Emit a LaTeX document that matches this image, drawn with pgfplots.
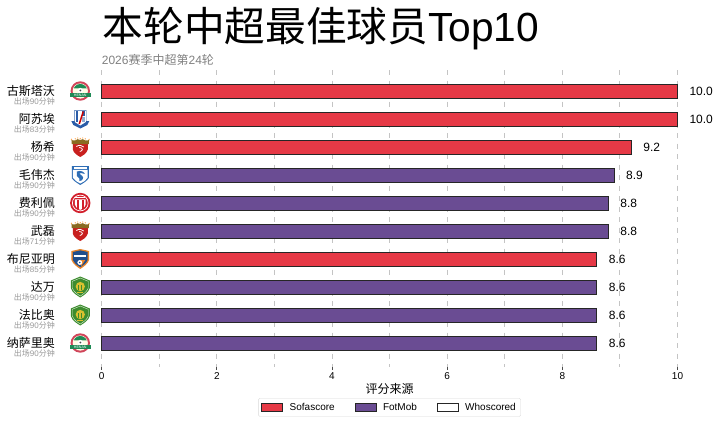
\documentclass[border=0pt]{standalone}
\usepackage{fontspec}
\setmainfont{Liberation Sans}
\newfontfamily\cjk{Noto Sans CJK SC}
\usepackage{pgfplots}
\pgfplotsset{compat=1.18}

\definecolor{sofa}{HTML}{E63946}
\definecolor{fotmob}{HTML}{6A4C93}
\definecolor{gridc}{HTML}{C4C4C4}
\definecolor{henang}{HTML}{1E8A55}
\definecolor{henanr}{HTML}{D0455A}
\definecolor{shblue}{HTML}{2B5DA8}
\definecolor{portr}{HTML}{C8201F}
\definecolor{portg}{HTML}{8A6A20}
\definecolor{sdblue}{HTML}{2E6DB5}
\definecolor{ccred}{HTML}{D21F2B}
\definecolor{tjblue}{HTML}{1F4E8C}
\definecolor{tjor}{HTML}{E8842A}
\definecolor{bjg}{HTML}{3C8C2E}
\definecolor{bjy}{HTML}{D8C030}

\newcommand\fs[1]{\fontsize{#1bp}{#1bp}\selectfont}
\newcommand\pl[2]{{\cjk\fs{12}#1}\\[-3.2bp]{\color[HTML]{999999}\cjk\fs{8}出场}{\color[HTML]{999999}\fs{8}#2}{\color[HTML]{999999}\cjk\fs{8}分钟}}

% team badges, drawn around a named point, units are output pixels
\newcommand\henan[1]{\begin{scope}[shift={(#1)},x=1bp,y=1bp]
  \fill[henanr] (0,0) circle (9.7);
  \fill[white!90!yellow] (0,0) circle (7.6);
  \fill[henang] (-6.6,2.6) arc (158:22:7.1) -- cycle;
  \fill[white] (0,0.5) circle (2.6);
  \fill[black!70] (0,0.5) circle (1);
  \fill[henang] (-10.3,-6) rectangle (10.3,-1.8);
  \node[white,inner sep=0pt,font=\fs{3.6}] at (0,-3.9) {HENAN};
\end{scope}}
\newcommand\shenhua[1]{\begin{scope}[shift={(#1)},x=1bp,y=1bp]
  \fill[shblue] (-9,-2) -- (-6,-2) -- (-6,9) -- (6,9) -- (6,-2) -- (9,-2) -- (7,-6) -- (0,-9.5) -- (-7,-6) -- cycle;
  \fill[white] (-5.5,8.5) -- (5.5,8.5) -- (5.5,-3) -- (0,-6.5) -- (-5.5,-3) -- cycle;
  \fill[shblue] (-4.5,8) rectangle (-2,-3);
  \fill[shblue] (1.5,8) rectangle (4.5,3);
  \fill[shblue!50!white] (1.5,2) rectangle (4.5,-3);
  \draw[red!80!black,line width=1.5bp] (-1,-5) -- (3,7.5);
\end{scope}}
\newcommand\port[1]{\begin{scope}[shift={(#1)},x=1bp,y=1bp]
  \fill[portr] (-7.5,4.5) -- (7.5,4.5) -- (7.5,-2.5) .. controls (6.5,-6.5) and (2.5,-8.5) .. (0,-10) .. controls (-2.5,-8.5) and (-6.5,-6.5) .. (-7.5,-2.5) -- cycle;
  \fill[portg] (-8.5,3) -- (-8.8,6.8) -- (-5,6.6) -- (-2.5,7.8) -- (0,7) -- (2.5,7.8) -- (5,6.6) -- (8.8,6.8) -- (8.5,3) -- cycle;
  \foreach \a/\b in {-8.8/7.6,-5/8.2,-2.5/9,0/8.4,2.5/9,5/8.2,8.8/7.6} \fill[orange!70!white] (\a,\b) circle (0.7);
  \draw[white,line width=0.8bp] (-4,0.5) .. controls (-1,2.5) and (2,1.5) .. (3.5,0);
  \draw[white,line width=0.8bp] (-1,-0.5) .. controls (3,-0.5) and (3,-4) .. (-0.5,-4.5);
\end{scope}}
\newcommand\shandong[1]{\begin{scope}[shift={(#1)},x=1bp,y=1bp]
  \fill[sdblue] (-8.5,9) -- (8.5,9) -- (8.5,-3) .. controls (7,-6) and (3,-8) .. (0,-10) .. controls (-3,-8) and (-7,-6) .. (-8.5,-3) -- cycle;
  \fill[white] (-7.3,5.2) -- (7.3,5.2) -- (7.3,-2.8) .. controls (6,-5.3) and (3,-7) .. (0,-8.5) .. controls (-3,-7) and (-6,-5.3) .. (-7.3,-2.8) -- cycle;
  \fill[white] (-6.5,8) rectangle (6.5,6.5);
  \fill[sdblue] (-3.5,3.5) .. controls (1,5) and (4,3) .. (4.5,1) .. controls (2,2.2) and (0,2) .. (-1,1.5) -- (2,-1) .. controls (4,-3) and (2,-6) .. (-1,-6) .. controls (0,-4) and (-1,-3) .. (-3.5,-1) -- cycle;
\end{scope}}
\newcommand\changchun[1]{\begin{scope}[shift={(#1)},x=1bp,y=1bp]
  \fill[ccred] (0,0) circle (10.2);
  \draw[white,line width=0.7bp] (0,0) circle (7.9);
  \fill[white] (-5.4,3.6) -- (5.4,3.6) -- (5.4,-1.5) .. controls (4,-5) and (2,-6.2) .. (0,-6.8) .. controls (-2,-6.2) and (-4,-5) .. (-5.4,-1.5) -- cycle;
  \fill[ccred] (-3.5,3) rectangle (-1.6,-5.5);
  \fill[ccred] (1.6,3) rectangle (3.5,-5.5);
  \fill[white] (-5,6) rectangle (5,4.6);
\end{scope}}
\newcommand\tianjin[1]{\begin{scope}[shift={(#1)},x=1bp,y=1bp]
  \fill[tjor] (-8.8,8) -- (0,10) -- (8.8,8) -- (8.8,-1) .. controls (7.5,-5) and (3,-8) .. (0,-10) .. controls (-3,-8) and (-7.5,-5) .. (-8.8,-1) -- cycle;
  \fill[tjblue] (-7.3,7) -- (0,8.6) -- (7.3,7) -- (7.3,-1) .. controls (6,-4) and (3,-6.5) .. (0,-8.2) .. controls (-3,-6.5) and (-6,-4) .. (-7.3,-1) -- cycle;
  \fill[white] (-6,4.2) rectangle (6,2.2);
  \fill[tjor] (-1,-1) -- (5,-1) -- (1,-7) -- cycle;
  \fill[white] (-0.5,-3.5) circle (2.4);
  \fill[tjblue] (-0.5,-3.5) circle (0.9);
\end{scope}}
\newcommand\guoan[1]{\begin{scope}[shift={(#1)},x=1bp,y=1bp]
  \fill[bjg] (-9.5,6.5) -- (0,10.5) -- (9.5,6.5) -- (9.5,-1) .. controls (8,-6) and (3,-8.5) .. (0,-10.5) .. controls (-3,-8.5) and (-8,-6) .. (-9.5,-1) -- cycle;
  \draw[white!80!bjg,line width=0.4bp] (-8,5.7) -- (0,9) -- (8,5.7) -- (8,-1) .. controls (6.5,-5) and (3,-7) .. (0,-9) .. controls (-3,-7) and (-6.5,-5) .. (-8,-1) -- cycle;
  \fill[bjy] (0,0.5) circle (4.6);
  \fill[bjg] (-1.8,2.5) rectangle (-0.8,-2.5);
  \fill[bjg] (0.8,2.5) rectangle (1.8,-2.5);
  \fill[bjy] (-3,-6) rectangle (3,-4.6);
\end{scope}}

\begin{document}
\begin{tikzpicture}[x=1bp,y=1bp]
  \path[use as bounding box] (0,0) rectangle (720,423);

  \begin{axis}[
    at={(101.7bp,56bp)}, anchor=south west,
    scale only axis, width=575.8bp, height=297bp,
    xmin=0, xmax=10, ymin=-0.75, ymax=9.857,
    y dir=reverse, clip=false,
    axis line style={draw=none},
    xtick={0,2,4,6,8,10}, xtick pos=bottom,
    minor x tick num=1,
    xmajorgrids, xminorgrids,
    major grid style={gridc,line width=1bp,dash pattern=on 5bp off 5.5bp},
    minor grid style={gridc,line width=1bp,dash pattern=on 5bp off 5.5bp},
    ytick={0,...,9},
    yticklabels={
      {\pl{古斯塔沃}{90}},{\pl{阿苏埃}{83}},{\pl{杨希}{90}},{\pl{毛伟杰}{90}},{\pl{费利佩}{90}},
      {\pl{武磊}{71}},{\pl{布尼亚明}{85}},{\pl{达万}{90}},{\pl{法比奥}{90}},{\pl{纳萨里奥}{90}}},
    y tick label style={align=right,anchor=east,inner sep=0pt,xshift=-43.7bp,yshift=-4bp},
    ytick style={draw=none},
    x tick style={black!70,line width=0.8bp},
    tick align=outside, major tick length=3bp, minor tick length=0pt,
    /pgf/number format/assume math mode=true,
    x tick label style={font=\fs{10},inner sep=0pt,yshift=-2.5bp},
    xlabel={{\cjk\fs{12}评分来源}},
    xlabel style={inner sep=0pt,at={(0.5,0)},anchor=center,yshift=-22bp},
    legend columns=3,
    legend style={at={(0.5,0)},anchor=north,yshift=-31bp,draw=black!15,rounded corners=1.5bp,
      font=\fs{10},inner xsep=3bp,inner ysep=2.8bp,
      /tikz/every odd column/.append style={column sep=4.5bp},
      /tikz/every even column/.append style={column sep=18bp}},
    legend cell align=left,
    nodes near coords,
    point meta=x,
    nodes near coords style={anchor=west,inner sep=0pt,xshift=11.5bp,font=\fs{12},
      /pgf/number format/fixed,/pgf/number format/fixed zerofill,/pgf/number format/precision=1},
  ]

  \addplot[xbar,bar width=14bp,bar shift=0pt,fill=sofa,draw=black!85,line width=1bp,
    legend image code/.code={\draw[sharp corners,fill=sofa,draw=black!85,line width=0.8bp] (0bp,-3.6bp) rectangle (21bp,3.6bp);}]
    coordinates {(10,0) (10,1) (9.2,2) (8.6,6)};
  \addplot[xbar,bar width=14bp,bar shift=0pt,fill=fotmob,draw=black!85,line width=1bp,
    legend image code/.code={\draw[sharp corners,fill=fotmob,draw=black!85,line width=0.8bp] (0bp,-3.6bp) rectangle (21bp,3.6bp);}]
    coordinates {(8.9,3) (8.8,4) (8.8,5) (8.6,7) (8.6,8) (8.6,9)};
  \addlegendimage{legend image code/.code={\draw[sharp corners,fill=white,draw=black!85,line width=0.8bp] (0bp,-3.6bp) rectangle (21bp,3.6bp);}}
  \legend{Sofascore,FotMob,Whoscored}

  % anchors for the badges
  \coordinate (L0) at (axis cs:-0.372,0);
  \coordinate (L1) at (axis cs:-0.372,1);
  \coordinate (L2) at (axis cs:-0.372,2);
  \coordinate (L3) at (axis cs:-0.372,3);
  \coordinate (L4) at (axis cs:-0.372,4);
  \coordinate (L5) at (axis cs:-0.372,5);
  \coordinate (L6) at (axis cs:-0.372,6);
  \coordinate (L7) at (axis cs:-0.372,7);
  \coordinate (L8) at (axis cs:-0.372,8);
  \coordinate (L9) at (axis cs:-0.372,9);
  \end{axis}

  \henan{L0} \shenhua{L1} \port{L2} \shandong{L3} \changchun{L4}
  \port{L5} \tianjin{L6} \guoan{L7} \guoan{L8} \henan{L9}

  \node[anchor=base west,inner sep=0pt] at (102.5,423-41) {{\cjk\fs{40.7}本轮中超最佳球员}\fs{40.7}Top10};
  \node[anchor=base west,inner sep=0pt,text=black!50] at (101.7,423-64) {\fs{12}2026{\cjk 赛季中超第}24{\cjk 轮}};
\end{tikzpicture}
\end{document}
